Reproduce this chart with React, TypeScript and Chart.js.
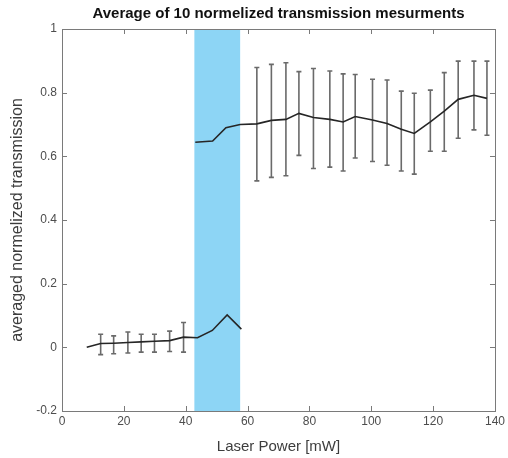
import React, { useEffect, useRef } from "react";
import { Chart, registerables } from "chart.js";

Chart.register(...registerables);

const titleText = "Average of 10 normelized transmission mesurments";
const xTitle = "Laser Power [mW]";
const yTitle = "averaged normelized transmission";

const lowerX = [8, 12.5, 16.7, 21.3, 25.6, 29.9, 34.8, 39.3, 43.8, 48.6, 53.4, 58];
const lowerY = [0, 0.012, 0.013, 0.015, 0.017, 0.019, 0.021, 0.032, 0.03, 0.053, 0.102, 0.057];
const lowerErrX = [12.5, 16.7, 21.3, 25.6, 29.9, 34.8, 39.3];
const lowerErrLow = [-0.023, -0.02, -0.018, -0.015, -0.015, -0.013, -0.015];
const lowerErrHigh = [0.041, 0.036, 0.048, 0.041, 0.041, 0.051, 0.078];

const upperX = [43.1, 48.7, 53, 57.6, 63.0, 67.7, 72.4, 76.6, 81.3, 86.6, 90.9, 94.8, 100.4, 105.1, 109.7, 113.9, 119.1, 123.6, 128.1, 133.2, 137.4];
const upperY = [0.644, 0.648, 0.69, 0.7, 0.702, 0.713, 0.716, 0.735, 0.722, 0.716, 0.708, 0.725, 0.714, 0.703, 0.685, 0.672, 0.708, 0.742, 0.779, 0.792, 0.782];
const upperErrX = [63.0, 67.7, 72.4, 76.6, 81.3, 86.6, 90.9, 94.8, 100.4, 105.1, 109.7, 113.9, 119.1, 123.6, 128.1, 133.2, 137.4];
const upperErrHigh = [0.879, 0.889, 0.894, 0.866, 0.876, 0.868, 0.859, 0.857, 0.842, 0.84, 0.805, 0.798, 0.808, 0.863, 0.899, 0.899, 0.899];
const upperErrLow = [0.523, 0.534, 0.539, 0.603, 0.562, 0.566, 0.554, 0.595, 0.584, 0.572, 0.554, 0.544, 0.616, 0.616, 0.657, 0.683, 0.666];

const bandStart = 42.8;
const bandEnd = 57.6;

const xMin = 0, xMax = 140, xStep = 20;
const yMin = -0.2, yMax = 1, yStep = 0.2;

const FONT = "'Liberation Sans', Arial, Helvetica, sans-serif";

const bandPlugin = {
  id: "band",
  beforeDatasetsDraw(chart: any) {
    const { ctx, chartArea, scales } = chart;
    const x0 = scales.x.getPixelForValue(bandStart);
    const x1 = scales.x.getPixelForValue(bandEnd);
    ctx.save();
    ctx.fillStyle = "#8dd5f5";
    ctx.fillRect(x0, chartArea.top, x1 - x0, chartArea.bottom - chartArea.top);
    ctx.strokeStyle = "#6a6a6a";
    ctx.lineWidth = 1.6;
    const drawBars = (xs: number[], lo: number[], hi: number[]) => {
      xs.forEach((xv, i) => {
        const px = scales.x.getPixelForValue(xv);
        const pl = scales.y.getPixelForValue(lo[i]);
        const ph = scales.y.getPixelForValue(hi[i]);
        ctx.beginPath();
        ctx.moveTo(px, pl);
        ctx.lineTo(px, ph);
        ctx.moveTo(px - 2.5, pl);
        ctx.lineTo(px + 2.5, pl);
        ctx.moveTo(px - 2.5, ph);
        ctx.lineTo(px + 2.5, ph);
        ctx.stroke();
      });
    };
    drawBars(lowerErrX, lowerErrLow, lowerErrHigh);
    drawBars(upperErrX, upperErrLow, upperErrHigh);
    ctx.restore();
  },
};

const framePlugin = {
  id: "frame",
  afterDraw(chart: any) {
    const { ctx, chartArea, scales } = chart;
    const { left, right, top, bottom } = chartArea;
    ctx.save();
    ctx.strokeStyle = "#7a7a7a";
    ctx.lineWidth = 1;
    ctx.strokeRect(Math.round(left) + 0.5, Math.round(top) + 0.5, Math.round(right - left), Math.round(bottom - top));
    const tl = 5;
    ctx.beginPath();
    scales.x.ticks.forEach((t: any) => {
      const px = Math.round(scales.x.getPixelForValue(t.value)) + 0.5;
      ctx.moveTo(px, bottom);
      ctx.lineTo(px, bottom - tl);
      ctx.moveTo(px, top);
      ctx.lineTo(px, top + tl);
    });
    scales.y.ticks.forEach((t: any) => {
      const py = Math.round(scales.y.getPixelForValue(t.value)) + 0.5;
      ctx.moveTo(left, py);
      ctx.lineTo(left + tl, py);
      ctx.moveTo(right, py);
      ctx.lineTo(right - tl, py);
    });
    ctx.stroke();
    ctx.restore();
  },
};

const fmt = (v: number) => {
  const r = Math.round(v * 10) / 10;
  return String(r === 0 ? 0 : r);
};

export default function App() {
  const ref = useRef<HTMLCanvasElement>(null);
  useEffect(() => {
    if (!ref.current) return;
    const chart = new Chart(ref.current, {
      type: "line",
      data: {
        datasets: [
          {
            data: lowerX.map((x, i) => ({ x, y: lowerY[i] })),
            borderColor: "#262626",
            borderWidth: 1.6,
            pointRadius: 0,
            tension: 0,
          },
          {
            data: upperX.map((x, i) => ({ x, y: upperY[i] })),
            borderColor: "#262626",
            borderWidth: 1.6,
            pointRadius: 0,
            tension: 0,
          },
        ],
      },
      options: {
        responsive: false,
        animation: false,
        layout: { padding: { left: 0, right: 11, top: 0, bottom: 0 } },
        plugins: {
          legend: { display: false },
          tooltip: { enabled: false },
          title: {
            display: true,
            fullSize: false,
            text: titleText,
            color: "#111111",
            font: { family: FONT, size: 15, weight: "bold" },
            padding: { top: 5, bottom: 6 },
          },
        },
        scales: {
          x: {
            type: "linear",
            min: xMin,
            max: xMax,
            afterFit(scale: any) {
              scale.height = 47;
            },
            ticks: {
              stepSize: xStep,
              color: "#4d4d4d",
              font: { family: FONT, size: 12 },
              padding: 3,
              maxRotation: 0,
              callback: (v: any) => fmt(Number(v)),
            },
            grid: { display: false, drawTicks: false },
            border: { display: false },
            title: {
              display: true,
              text: xTitle,
              color: "#3d3d3d",
              font: { family: FONT, size: 15 },
              padding: { top: 0, bottom: 2 },
            },
          },
          y: {
            type: "linear",
            min: yMin,
            max: yMax,
            afterFit(scale: any) {
              scale.width = 62;
            },
            ticks: {
              stepSize: yStep,
              color: "#4d4d4d",
              font: { family: FONT, size: 12 },
              padding: 5,
              callback: (v: any) => fmt(Number(v)),
            },
            grid: { display: false, drawTicks: false },
            border: { display: false },
            title: {
              display: true,
              text: yTitle,
              color: "#3d3d3d",
              font: { family: FONT, size: 16 },
              padding: { top: 8, bottom: 0 },
            },
          },
        },
      },
      plugins: [bandPlugin, framePlugin],
    } as any);
    return () => chart.destroy();
  }, []);
  return (
    <div style={{ position: "absolute", left: 0, top: 0, width: 508, height: 458, background: "#fff" }}>
      <canvas ref={ref} width={508} height={458} style={{ display: "block" }} />
    </div>
  );
}
